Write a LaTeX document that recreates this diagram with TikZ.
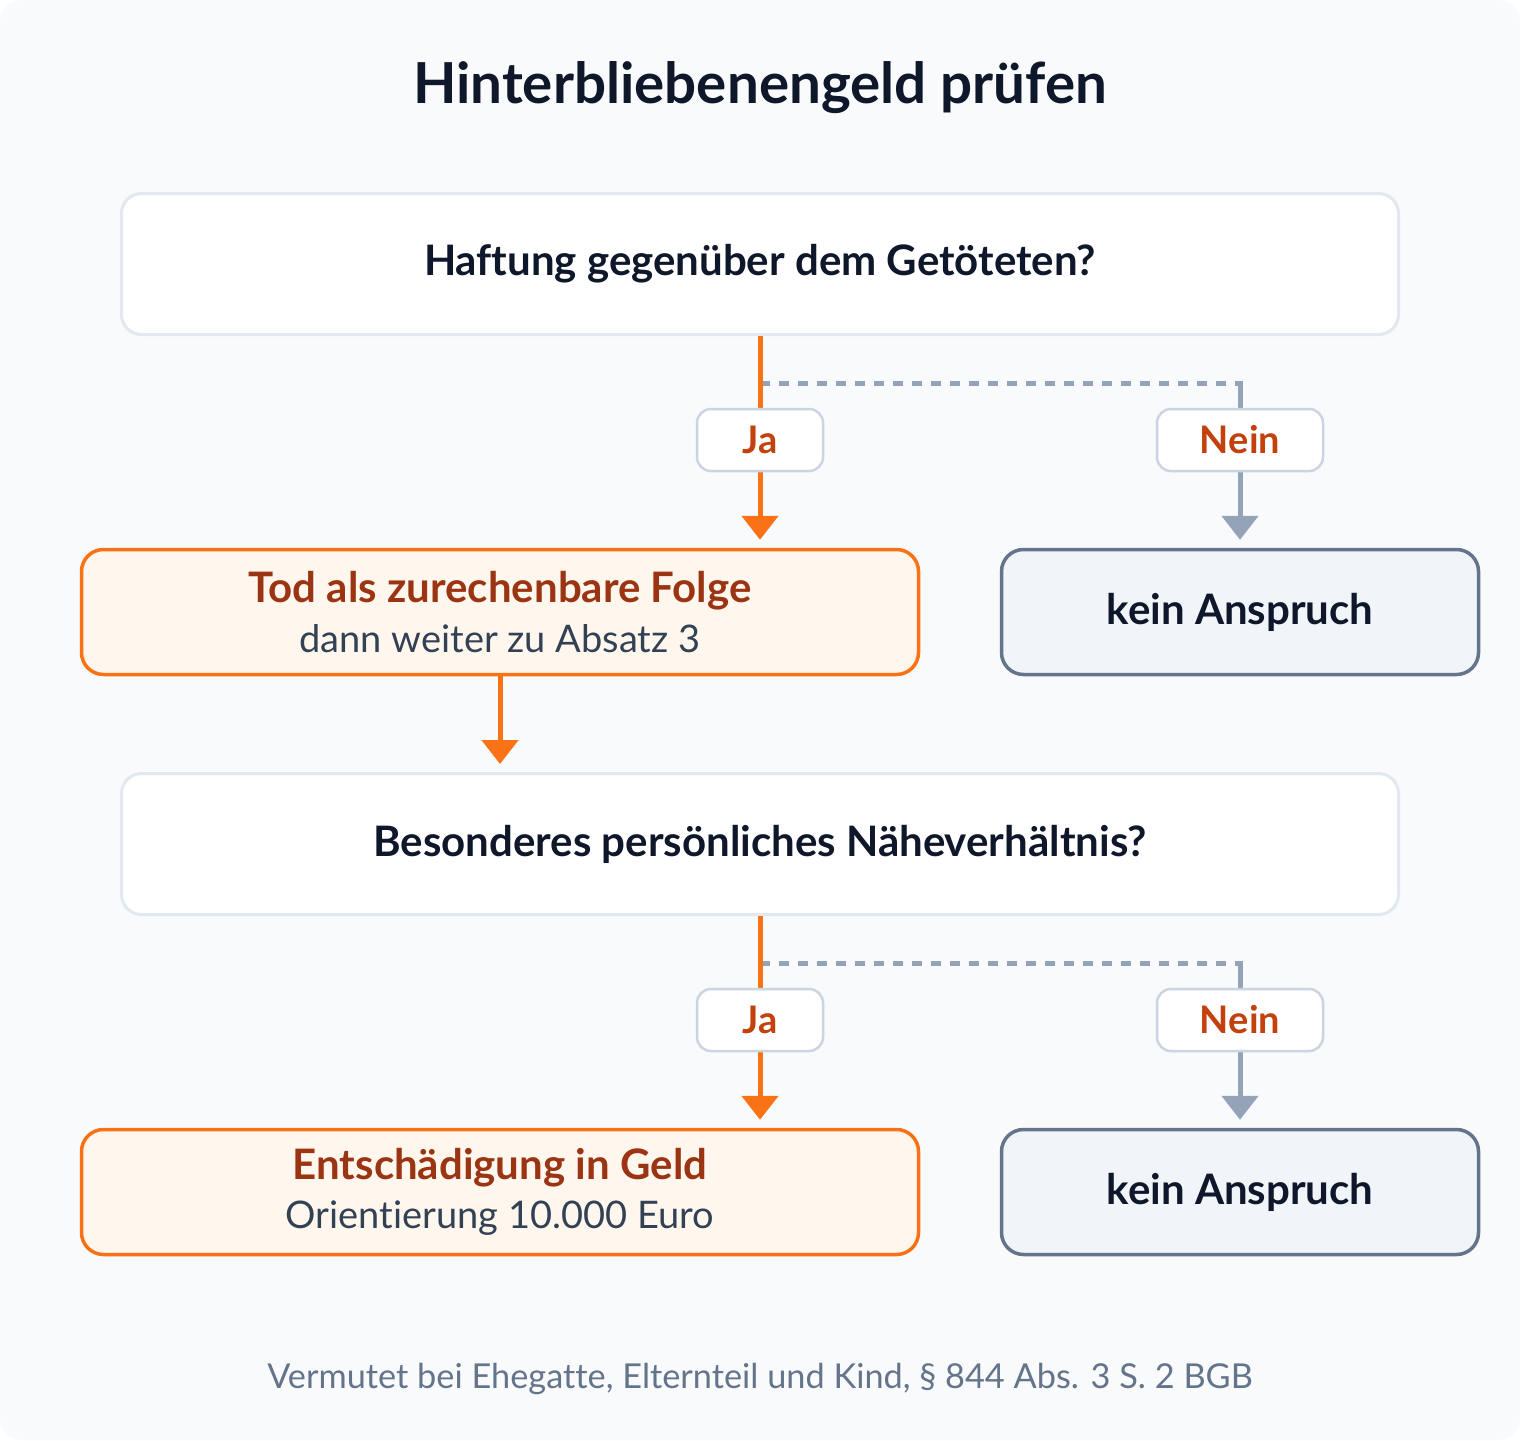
\documentclass[tikz,border=0pt]{standalone}
\usepackage{fontspec}
\setmainfont{Lato}[Ligatures=NoCommon]
\usetikzlibrary{arrows.meta}
\definecolor{bgc}{HTML}{F8FAFC}
\definecolor{boxline}{HTML}{E2E8F0}
\definecolor{lblline}{HTML}{CBD5E1}
\definecolor{orng}{HTML}{F97316}
\definecolor{orngfill}{HTML}{FFF7ED}
\definecolor{orngtext}{HTML}{9A3412}
\definecolor{jatext}{HTML}{C2410C}
\definecolor{grayline}{HTML}{94A3B8}
\definecolor{kfill}{HTML}{F1F5F9}
\definecolor{kline}{HTML}{64748B}
\definecolor{dark}{HTML}{0F172A}
\definecolor{subtext}{HTML}{334155}
\definecolor{foot}{HTML}{64748B}
\tikzset{
  qbox/.style={draw=boxline, line width=3pt, fill=white, rounded corners=20pt,
    minimum width=1277pt, minimum height=141pt, inner sep=0pt,
    font=\fontsize{42}{50}\selectfont\bfseries, text=dark},
  resbox/.style={draw=orng, line width=3.5pt, fill=orngfill, rounded corners=22pt,
    minimum width=837pt, minimum height=125pt, inner sep=0pt, align=center},
  keinbox/.style={draw=kline, line width=3.5pt, fill=kfill, rounded corners=22pt,
    minimum width=477pt, minimum height=125pt, inner sep=0pt,
    font=\fontsize{42}{50}\selectfont\bfseries, text=dark},
  lbl/.style={draw=lblline, line width=2.5pt, fill=white, rounded corners=14pt,
    minimum height=62pt, inner sep=0pt,
    font=\fontsize{38}{45}\selectfont\bfseries, text=jatext},
  orngarrow/.style={draw=orng, line width=5pt, -{Triangle[width=36pt,length=24pt]}, shorten >=8pt},
  grayarrow/.style={draw=grayline, line width=5pt, -{Triangle[width=36pt,length=24pt]}, shorten >=8pt},
  dashline/.style={draw=grayline, line width=5pt, dash pattern=on 10pt off 9pt},
}
\newcommand{\restitle}[1]{{\fontsize{42}{50}\selectfont\bfseries\color{orngtext}#1}}
\newcommand{\ressub}[1]{{\fontsize{38}{50}\selectfont\color{subtext}#1}}
\begin{document}
\begin{tikzpicture}[x=1pt,y=-1pt]
\fill[white] (0,0) rectangle (1520,1440);
\fill[bgc, rounded corners=22pt] (0,0) rectangle (1520,1440);
\useasboundingbox (0,0) rectangle (1520,1440);

\node[font=\fontsize{56.5}{66}\selectfont\bfseries, text=dark] (title) at (760,88) {Hinterbliebenengeld prüfen};

% row 1
\node[qbox] (q1) at (760,264) {\raisebox{-3pt}{Haftung gegenüber dem Getöteten?}};
\node[resbox] (r1) at (500,612) {\restitle{Tod als zurechenbare Folge}\\[13pt]\ressub{dann weiter zu Absatz 3}};
\node[keinbox] (k1) at (1240,612) {\raisebox{-3pt}{kein Anspruch}};
\coordinate (s1) at (760,383);

% row 2
\node[qbox] (q2) at (760,844) {\raisebox{-3pt}{Besonderes persönliches Näheverhältnis?}};
\node[resbox] (r2) at (500,1192) {\restitle{Entschädigung in Geld}\\[13pt]\ressub{Orientierung 10.000 Euro}};
\node[keinbox] (k2) at (1240,1192) {\raisebox{-3pt}{kein Anspruch}};
\coordinate (s2) at (760,963);

% connectors row 1
\draw[dashline] (s1) -- (s1 -| k1.north);
\draw[grayarrow] ([yshift=2.5pt]s1 -| k1.north) -- (k1.north);
\draw[orngarrow] (q1.south) -- (q1.south |- r1.north);
% between
\draw[orngarrow] (r1.south) -- (r1.south |- q2.north);
% connectors row 2
\draw[dashline] (s2) -- (s2 -| k2.north);
\draw[grayarrow] ([yshift=2.5pt]s2 -| k2.north) -- (k2.north);
\draw[orngarrow] (q2.south) -- (q2.south |- r2.north);

% labels
\node[lbl, minimum width=126pt] (ja1) at (760,440) {Ja};
\node[lbl, minimum width=166pt] (nein1) at (1240,440) {Nein};
\node[lbl, minimum width=126pt] (ja2) at (760,1020) {Ja};
\node[lbl, minimum width=166pt] (nein2) at (1240,1020) {Nein};

\node[font=\fontsize{34.3}{40}\selectfont, text=foot] (footer) at (760,1379) {Vermutet bei Ehegatte, Elternteil und Kind, § 844 Abs. 3 S. 2 BGB};
\end{tikzpicture}
\end{document}
